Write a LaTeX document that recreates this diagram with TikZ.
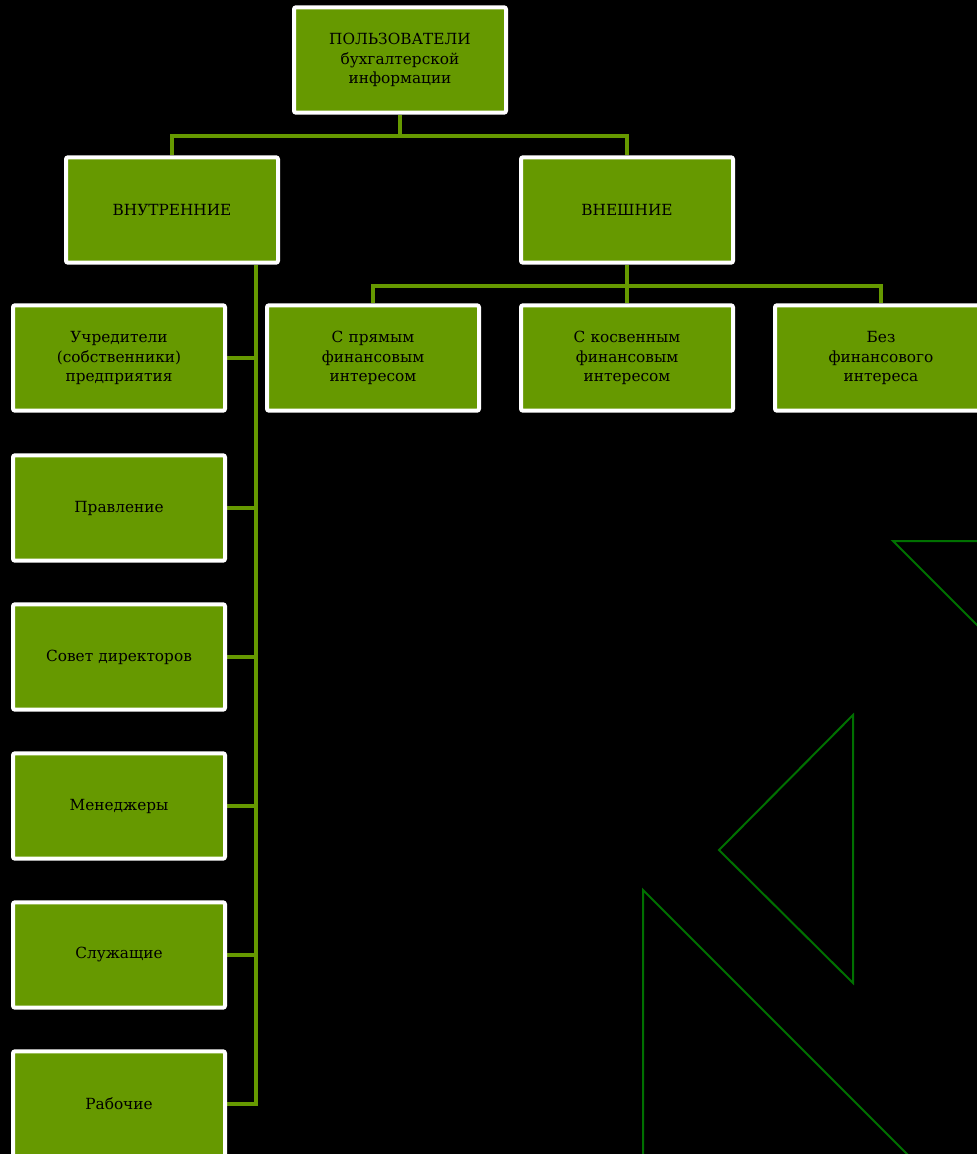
\documentclass[tikz,border=0pt]{standalone}
\usepackage{fontspec}
\setmainfont{DejaVu Serif}
\usetikzlibrary{backgrounds}
\definecolor{boxgreen}{RGB}{102,153,0}
\definecolor{trigreen}{RGB}{0,112,0}

\begin{document}
\begin{tikzpicture}[x=0.75pt,y=0.75pt,yscale=-1,xscale=1,
  box/.style={draw=white, line width=3pt, fill=boxgreen, rounded corners=1.5pt,
    minimum width=159pt, minimum height=79pt, inner sep=2pt, align=center,
    text width=152pt, font=\fontsize{11.5}{14.6}\selectfont},
  link/.style={draw=boxgreen, line width=3pt},
  tri/.style={draw=trigreen, line width=1.5pt}]

%background
\begin{scope}[on background layer]
\fill[black] (0,0) rectangle (977,1154);
\end{scope}
\useasboundingbox (0,0) rectangle (977,1154);

%triangles
\draw[tri] (1010,541) -- (893,541) -- (1010,658);
\draw[tri] (853,715) -- (719,850) -- (853,983) -- cycle;
\draw[tri] (643,1170) -- (643,890) -- (923,1170);

% top levels
\node[box] (users) at (400,60) {ПОЛЬЗОВАТЕЛИ\\бухгалтерской\\информации};
\node[box] (inner) at (172,210) {ВНУТРЕННИЕ};
\node[box] (outer) at (627,210) {ВНЕШНИЕ};

% external users
\node[box] (direct) at (373,358) {С прямым\\финансовым\\интересом};
\node[box] (indirect) at (627,358) {С косвенным\\финансовым\\интересом};
\node[box] (nointerest) at (881,358) {Без\\финансового\\интереса};

% internal users
\node[box] (owners) at (119,358) {Учредители\\(собственники)\\предприятия};
\node[box] (board) at (119,508) {Правление};
\node[box] (directors) at (119,657) {Совет директоров};
\node[box] (managers) at (119,806) {Менеджеры};
\node[box] (staff) at (119,955) {Служащие};
\node[box] (workers) at (119,1104) {Рабочие};

% connectors
\begin{scope}[on background layer]
\draw[link] (users.south) -- ++(0,21) coordinate (fork1) -| (inner.north);
\draw[link] (fork1) -| (outer.north);
\draw[link] (outer.south) -- ++(0,21) coordinate (fork2) -| (direct.north);
\draw[link] (fork2) -| (nointerest.north);
\draw[link] (outer.south) -- (indirect.north);
\draw[link] ([xshift=63pt]inner.south) coordinate (spine) |- (workers.east);
\foreach \n in {owners,board,directors,managers,staff}
  \draw[link] (\n.east) -- (\n.east -| spine);
\end{scope}

\end{tikzpicture}
\end{document}
